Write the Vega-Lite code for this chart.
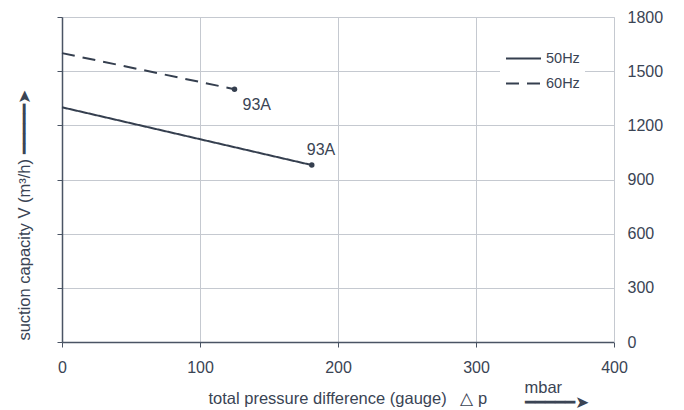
{
  "$schema": "https://vega.github.io/schema/vega-lite/v6.json",
  "width": 552,
  "height": 325,
  "autosize": {"type": "none"},
  "padding": {"left": 62, "top": 17, "right": 70, "bottom": 68},
  "background": "white",
  "config": {
    "font": "Liberation Sans",
    "view": {"stroke": null},
    "axis": {
      "labelColor": "#3a4454",
      "titleColor": "#3a4454",
      "titleFontWeight": "normal",
      "gridColor": "#c5c9d0",
      "gridWidth": 1
    },
    "legend": {
      "labelColor": "#3a4454"
    }
  },
  "datasets": {
    "curves": [
      {"series": "50Hz", "dp": 0, "q": 1300},
      {"series": "50Hz", "dp": 181, "q": 980},
      {"series": "60Hz", "dp": 0, "q": 1600},
      {"series": "60Hz", "dp": 125, "q": 1400}
    ],
    "ends": [
      {"series": "50Hz", "dp": 181, "q": 980, "label": "93A"},
      {"series": "60Hz", "dp": 125, "q": 1400, "label": "93A"}
    ]
  },
  "layer": [
    {
      "data": {"name": "curves"},
      "mark": {"type": "line", "strokeWidth": 2, "color": "#353f4f"},
      "encoding": {
        "x": {
          "field": "dp", "type": "quantitative",
          "scale": {"domain": [0, 400], "nice": false},
          "axis": {
            "orient": "bottom",
            "values": [0, 100, 200, 300, 400],
            "grid": true,
            "tickSize": 5,
            "tickColor": "#4a5464",
            "domainColor": "#4a5464",
            "domainWidth": 1.5,
            "labelFontSize": 16,
            "labelPadding": 12,
            "labelFlush": false,
            "title": "total pressure difference (gauge)\u00a0\u00a0\u00a0△ p",
            "titleFontSize": 16.5,
            "titleAlign": "left",
            "titleAnchor": "start",
            "titleX": 146,
            "titleY": 48,
            "titleBaseline": "top"
          }
        },
        "y": {
          "field": "q", "type": "quantitative",
          "scale": {"domain": [0, 1800], "nice": false},
          "axis": {
            "orient": "left",
            "values": [0, 300, 600, 900, 1200, 1500, 1800],
            "labels": false,
            "grid": true,
            "tickSize": 5,
            "tickColor": "#4a5464",
            "domainColor": "#4a5464",
            "domainWidth": 1.5,
            "title": "suction capacity V (m³/h) ━━━━━➤",
            "titleFontSize": 16.5,
            "titlePadding": 24,
            "titleY": 198
          }
        },
        "strokeDash": {
          "field": "series", "type": "nominal",
          "scale": {"domain": ["50Hz", "60Hz"], "range": [[1, 0], [13, 8]]},
          "legend": {
            "title": null,
            "orient": "none",
            "legendX": 438,
            "legendY": 18,
            "fillColor": "white",
            "padding": 5,
            "symbolType": "stroke",
            "symbolSize": 1225,
            "symbolStrokeWidth": 2,
            "symbolStrokeColor": "#353f4f",
            "labelFontSize": 14.5,
            "labelOffset": 4,
            "rowPadding": -17
          }
        }
      }
    },
    {
      "data": {"name": "ends"},
      "mark": {"type": "point", "filled": true, "size": 30, "color": "#353f4f", "opacity": 1},
      "encoding": {
        "x": {
          "field": "dp", "type": "quantitative",
          "axis": {
            "orient": "bottom",
            "domain": false,
            "ticks": false,
            "labels": false,
            "grid": false,
            "title": ["\u00a0mbar", "━━━━━➤"],
            "titleFontSize": 16.5,
            "titleAlign": "left",
            "titleAnchor": "start",
            "titleX": 462,
            "titleY": 37,
            "titleBaseline": "top",
            "titleLineHeight": 15
          }
        },
        "y": {
          "field": "q", "type": "quantitative",
          "axis": {
            "orient": "right",
            "values": [0, 300, 600, 900, 1200, 1500, 1800],
            "format": "d",
            "labels": true,
            "ticks": false,
            "grid": false,
            "domainColor": "#c5c9d0",
            "labelFontSize": 16,
            "labelPadding": 13,
            "title": null
          }
        }
      }
    },
    {
      "data": {"name": "ends"},
      "transform": [{"filter": "datum.series == '60Hz'"}],
      "mark": {"type": "text", "align": "left", "baseline": "top", "dx": 8, "dy": 8, "fontSize": 16, "color": "#3a4454"},
      "encoding": {
        "x": {"field": "dp", "type": "quantitative", "axis": null},
        "y": {"field": "q", "type": "quantitative", "axis": null},
        "text": {"field": "label"}
      }
    },
    {
      "data": {"name": "ends"},
      "transform": [{"filter": "datum.series == '50Hz'"}],
      "mark": {"type": "text", "align": "left", "baseline": "bottom", "dx": -5, "dy": -7, "fontSize": 16, "color": "#3a4454"},
      "encoding": {
        "x": {"field": "dp", "type": "quantitative", "axis": null},
        "y": {"field": "q", "type": "quantitative", "axis": null},
        "text": {"field": "label"}
      }
    }
  ],
  "resolve": {"axis": {"x": "independent", "y": "independent"}}
}
